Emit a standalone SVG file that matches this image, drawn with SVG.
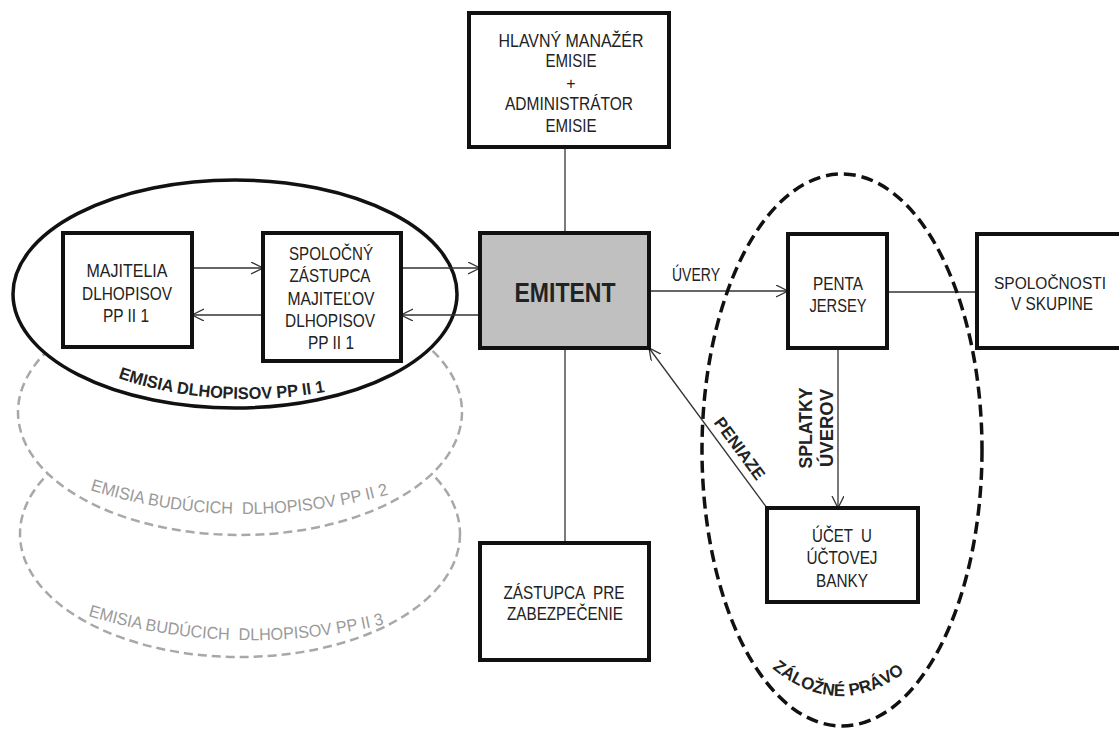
<svg xmlns="http://www.w3.org/2000/svg" width="1119" height="729" viewBox="0 0 1119 729">
<style>
.box{fill:#fff;stroke:#111;stroke-width:4}
.emi{fill:#c0c0c0}
.t{font-family:"Liberation Sans",Arial,sans-serif;fill:#222;text-anchor:middle}
.b{font-family:"Liberation Sans",Arial,sans-serif;font-weight:bold;fill:#222}
.g{font-family:"Liberation Sans",Arial,sans-serif;fill:#9a9a9a}
.conn{stroke:#333;stroke-width:1.3;fill:none}
.gray{fill:#fff;stroke:#a8a8a8;stroke-width:2.5;stroke-dasharray:9 5}
</style>
<defs>
<marker id="arr" markerWidth="14" markerHeight="14" refX="12" refY="6" orient="auto" markerUnits="userSpaceOnUse">
<path d="M0,0 L12,6 L0,12" fill="none" stroke="#333" stroke-width="1.3"/>
</marker>
<path id="p1" d="M118,378 Q215,411 325,392"/>
<path id="p2" d="M90,490 Q237,536 390,494"/>
<path id="p3" d="M88,616 Q237,660 385,624"/>
<path id="p4" d="M772,668 Q838,722 905,672"/>
</defs>

<g id="emisia3">
<ellipse class="gray" cx="240" cy="534" rx="220" ry="123"/>
<text class="g" font-size="17" xml:space="preserve"><textPath href="#p3" textLength="300" lengthAdjust="spacingAndGlyphs">EMISIA BUDÚCICH  DLHOPISOV PP II 3</textPath></text>
</g>
<g id="emisia2">
<ellipse class="gray" cx="240" cy="412" rx="222" ry="123"/>
<text class="g" font-size="17" xml:space="preserve"><textPath href="#p2" textLength="303" lengthAdjust="spacingAndGlyphs">EMISIA BUDÚCICH  DLHOPISOV PP II 2</textPath></text>
</g>
<g id="emisia1">
<ellipse cx="235" cy="294" rx="222" ry="114" fill="#fff" stroke="#111" stroke-width="3.5"/>
<text class="b" font-size="17"><textPath href="#p1" textLength="210" lengthAdjust="spacingAndGlyphs">EMISIA DLHOPISOV PP II 1</textPath></text>
</g>

<g id="connectors">
<line class="conn" x1="565" y1="147" x2="565" y2="233"/>
<line class="conn" x1="565" y1="348" x2="565" y2="543"/>
<line class="conn" x1="192" y1="268" x2="263" y2="268" marker-end="url(#arr)"/>
<line class="conn" x1="263" y1="315" x2="192" y2="315" marker-end="url(#arr)"/>
<line class="conn" x1="401" y1="268" x2="480" y2="268" marker-end="url(#arr)"/>
<line class="conn" x1="480" y1="315" x2="401" y2="315" marker-end="url(#arr)"/>
<line class="conn" x1="649" y1="291" x2="788" y2="291" marker-end="url(#arr)"/>
<line class="conn" x1="887" y1="292" x2="977" y2="292"/>
<line class="conn" x1="838" y1="348" x2="838" y2="508" marker-end="url(#arr)"/>
<line class="conn" x1="767" y1="508" x2="649" y2="348" marker-end="url(#arr)"/>
<text class="t" x="696" y="281" font-size="18" textLength="48" lengthAdjust="spacingAndGlyphs">ÚVERY</text>
<text class="b" font-size="17" text-anchor="middle" transform="rotate(53.6 735 452)" x="735" y="452" textLength="73" lengthAdjust="spacingAndGlyphs">PENIAZE</text>
<text class="b" font-size="18" text-anchor="middle" transform="rotate(-90 812 428)" x="812" y="428" textLength="81" lengthAdjust="spacingAndGlyphs">SPLATKY</text>
<text class="b" font-size="18" text-anchor="middle" transform="rotate(-90 833 428)" x="833" y="428" textLength="78" lengthAdjust="spacingAndGlyphs">ÚVEROV</text>
</g>

<g id="hlavny">
<rect class="box" x="469" y="13" width="200" height="134"/>
<text class="t" font-size="19" x="571" y="47" textLength="145" lengthAdjust="spacingAndGlyphs">HLAVNÝ MANAŽÉR</text>
<text class="t" font-size="19" x="571" y="67" textLength="51" lengthAdjust="spacingAndGlyphs">EMISIE</text>
<text class="t" font-size="16" x="571" y="89">+</text>
<text class="t" font-size="19" x="569" y="110" textLength="128" lengthAdjust="spacingAndGlyphs">ADMINISTRÁTOR</text>
<text class="t" font-size="19" x="571" y="132" textLength="51" lengthAdjust="spacingAndGlyphs">EMISIE</text>
</g>

<g id="majitelia">
<rect class="box" x="63" y="233" width="129" height="114"/>
<text class="t" font-size="19" x="127" y="277" textLength="81" lengthAdjust="spacingAndGlyphs">MAJITELIA</text>
<text class="t" font-size="19" x="127" y="300" textLength="90" lengthAdjust="spacingAndGlyphs">DLHOPISOV</text>
<text class="t" font-size="19" x="126" y="322" textLength="46" lengthAdjust="spacingAndGlyphs">PP II 1</text>
</g>

<g id="spolocny">
<rect class="box" x="263" y="233" width="138" height="128"/>
<text class="t" font-size="19" x="331" y="260" textLength="84" lengthAdjust="spacingAndGlyphs">SPOLOČNÝ</text>
<text class="t" font-size="19" x="330" y="282" textLength="81" lengthAdjust="spacingAndGlyphs">ZÁSTUPCA</text>
<text class="t" font-size="19" x="331" y="305" textLength="87" lengthAdjust="spacingAndGlyphs">MAJITEĽOV</text>
<text class="t" font-size="19" x="330" y="327" textLength="90" lengthAdjust="spacingAndGlyphs">DLHOPISOV</text>
<text class="t" font-size="19" x="331" y="349" textLength="46" lengthAdjust="spacingAndGlyphs">PP II 1</text>
</g>

<g id="emitent">
<rect class="box emi" x="480" y="233" width="169" height="115"/>
<text class="t" x="565" y="302" font-size="27" font-weight="bold" textLength="101" lengthAdjust="spacingAndGlyphs">EMITENT</text>
</g>

<g id="penta">
<rect class="box" x="788" y="234" width="99" height="114"/>
<text class="t" x="838" y="290" font-size="18" textLength="50" lengthAdjust="spacingAndGlyphs">PENTA</text>
<text class="t" x="838" y="312" font-size="18" textLength="57" lengthAdjust="spacingAndGlyphs">JERSEY</text>
</g>

<g id="spolocnosti">
<rect class="box" x="977" y="234" width="150" height="114"/>
<text class="t" x="1050" y="289" font-size="16" textLength="112" lengthAdjust="spacingAndGlyphs">SPOLOČNOSTI</text>
<text class="t" x="1052" y="310" font-size="18" textLength="82" lengthAdjust="spacingAndGlyphs">V SKUPINE</text>
</g>

<g id="ucet">
<rect class="box" x="767" y="508" width="151" height="94"/>
<text class="t" x="842" y="542" font-size="18" xml:space="preserve" textLength="60" lengthAdjust="spacingAndGlyphs">ÚČET  U</text>
<text class="t" x="842" y="564" font-size="18" textLength="71" lengthAdjust="spacingAndGlyphs">ÚČTOVEJ</text>
<text class="t" x="842" y="587" font-size="18" textLength="52" lengthAdjust="spacingAndGlyphs">BANKY</text>
</g>

<g id="zastupca">
<rect class="box" x="480" y="543" width="169" height="117"/>
<text class="t" font-size="19" x="564" y="599" xml:space="preserve" textLength="121" lengthAdjust="spacingAndGlyphs">ZÁSTUPCA  PRE</text>
<text class="t" font-size="19" x="565" y="620" textLength="116" lengthAdjust="spacingAndGlyphs">ZABEZPEČENIE</text>
</g>

<g id="zalozne">
<ellipse cx="842" cy="450" rx="140" ry="276" fill="none" stroke="#111" stroke-width="3.5" stroke-dasharray="12 6"/>
<text class="b" font-size="17"><textPath href="#p4" textLength="145" lengthAdjust="spacingAndGlyphs">ZÁLOŽNÉ PRÁVO</textPath></text>
</g>
</svg>
